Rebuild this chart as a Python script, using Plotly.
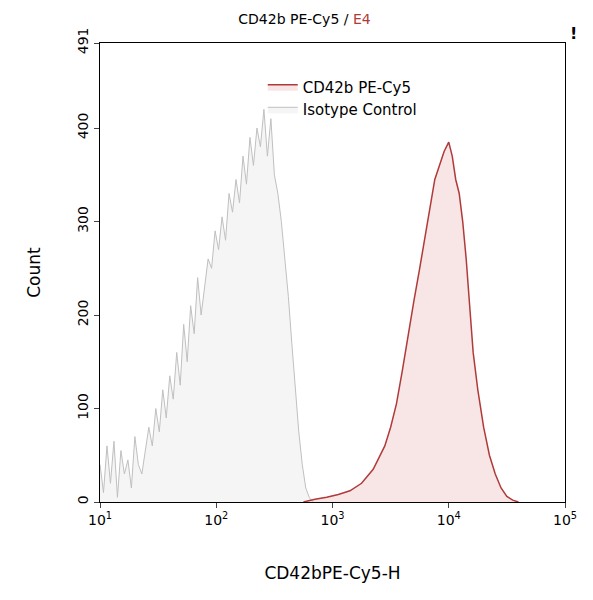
import plotly.graph_objects as go

iso_logx = [1.0,1.03,1.06,1.09,1.12,1.15,1.18,1.21,1.24,1.27,1.3,1.33,1.36,1.39,1.42,1.45,1.48,1.51,1.54,1.57,1.6,1.63,1.66,1.69,1.72,1.75,1.78,1.81,1.84,1.87,1.9,1.93,1.96,1.99,2.02,2.05,2.08,2.11,2.14,2.17,2.2,2.23,2.26,2.29,2.32,2.35,2.38,2.41,2.44,2.47,2.5,2.53,2.56,2.59,2.62,2.65,2.68,2.71,2.74,2.77,2.8,2.83]
iso_count = [40,10,60,20,65,5,55,30,45,15,70,40,30,55,80,60,100,75,120,90,135,110,160,125,190,150,210,180,240,200,230,260,250,290,270,305,280,330,310,345,320,370,340,390,360,400,380,420,370,410,350,330,300,260,220,170,120,75,40,15,5,0]

cd_logx = [2.75,2.85,2.95,3.05,3.15,3.25,3.35,3.45,3.5,3.55,3.6,3.65,3.7,3.75,3.8,3.84,3.88,3.92,3.96,4.0,4.03,4.06,4.09,4.12,4.15,4.18,4.21,4.25,4.3,4.35,4.4,4.45,4.5,4.55,4.6]
cd_count = [0,3,5,8,12,20,35,60,80,105,140,180,215,250,285,315,345,360,375,385,370,345,330,300,260,210,160,120,80,50,30,15,6,2,0]

fig = go.Figure()
fig.add_trace(go.Scatter(x=[10**v for v in iso_logx], y=iso_count, mode="lines",
    line=dict(color="#c0c0c0", width=1), fill="tozeroy", fillcolor="rgba(235,235,235,0.5)",
    name="Isotype Control"))
fig.add_trace(go.Scatter(x=[10**v for v in cd_logx], y=cd_count, mode="lines",
    line=dict(color="#b03a3a", width=1.5), fill="tozeroy", fillcolor="rgba(240,200,200,0.45)",
    name="CD42b PE-Cy5"))

tickvals = [10, 100, 1000, 10000, 100000]
ticktext = ["10<sup>1</sup>", "10<sup>2</sup>", "10<sup>3</sup>", "10<sup>4</sup>", "10<sup>5</sup>"]
fig.update_layout(
    width=593, height=600, plot_bgcolor="white", paper_bgcolor="white",
    font=dict(family="DejaVu Sans", size=14, color="black"),
    margin=dict(l=92, r=36, t=35, b=106, autoexpand=False),
    title=dict(text="CD42b PE-Cy5 / <span style='color:#b03a3a'>E4</span>", x=0.5, y=0.99,
               xanchor="center", font=dict(size=14)),
    legend=dict(x=0.35, y=0.94, xanchor="left", yanchor="top", bgcolor="rgba(0,0,0,0)",
                traceorder="reversed", font=dict(size=15)),
    xaxis=dict(type="log", range=[1, 5], tickvals=tickvals, ticktext=ticktext, automargin=False,
               showline=True, linecolor="black", mirror=True, ticks="outside",
               showgrid=False, zeroline=False, title=dict(text="CD42bPE-Cy5-H", standoff=40)),
    yaxis=dict(range=[0, 491], tickvals=[0, 100, 200, 300, 400, 491], tickangle=-90, automargin=False,
               showline=True, linecolor="black", mirror=True, ticks="outside",
               showgrid=False, zeroline=False, title=dict(text="Count", standoff=30)),
)
fig.add_annotation(text="<b>!</b>", xref="paper", yref="paper", x=1.03, y=1.045,
                   showarrow=False, font=dict(size=16))
fig.write_html("out.html")
